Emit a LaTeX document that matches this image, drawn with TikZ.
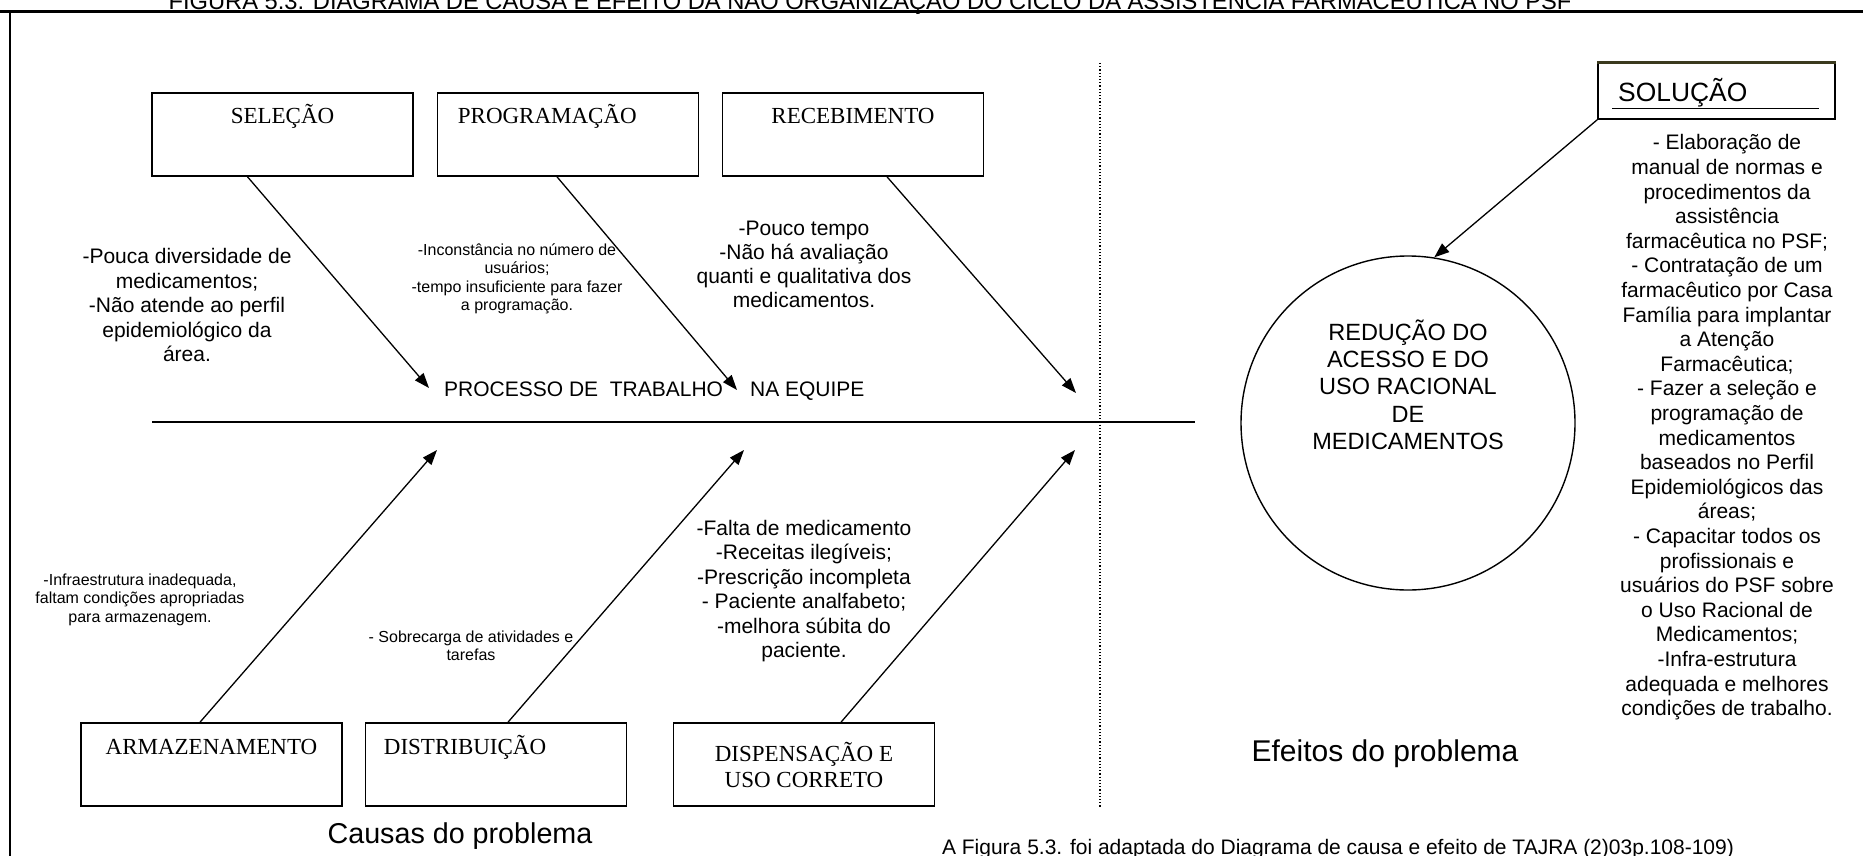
\documentclass[tikz,border=0pt]{standalone}
\usepackage{fontspec}
\setmainfont{Liberation Sans}
\newfontfamily\boxfont{Liberation Serif}
\usepackage{tikz}
\usetikzlibrary{calc, arrows.meta}
\definecolor{solbar}{HTML}{3B3A1E}

\begin{document}
\begin{tikzpicture}[x=1pt, y=-1pt, >={Triangle[length=15pt,width=11pt]},
    causebox/.style={draw, line width=1.6pt, minimum width=261pt, minimum height=83pt, inner sep=0pt},
    boxtext/.style={font=\boxfont\fontsize{23}{26}\selectfont, align=center, inner sep=0pt},
    causenote/.style={font=\fontsize{21}{24.5}\selectfont, align=center, inner sep=0pt},
    tinynote/.style={font=\fontsize{16}{18.4}\selectfont, align=center, inner sep=0pt},
    bone/.style={->, line width=1.3pt}]
    \useasboundingbox (0,0) rectangle (1863,856);
    \draw[line width=2.5pt] (0,11.5) -- (1863,11.5);
    \draw[line width=1.5pt] (10,11.5) -- (10,856);
    \node[anchor=base, inner sep=0pt, font=\fontsize{23.7}{28}\selectfont] (title) at (870,9.5) {FIGURA 5.3. DIAGRAMA DE CAUSA E EFEITO DA NÃO ORGANIZAÇÃO DO CICLO DA ASSISTÊNCIA FARMACÊUTICA NO PSF};

    \node[causebox] (sel) at (282.5,134.5) {};
    \node[causebox] (prog) at (568,134.5) {};
    \node[causebox] (rec) at (853,134.5) {};
    \node[causebox] (arm) at (211.5,764.5) {};
    \node[causebox] (dist) at (496,764.5) {};
    \node[causebox] (disp) at (804,764.5) {};
    \node[boxtext, anchor=base] (seltext) at ($(sel.north)+(0,31.6)$) {SELEÇÃO};
    \node[boxtext, anchor=base west] (progtext) at ($(prog.north west)+(21,31.6)$) {PROGRAMAÇÃO};
    \node[boxtext, anchor=base] (rectext) at ($(rec.north)+(0,31.6)$) {RECEBIMENTO};
    \node[boxtext, anchor=base] (armtext) at ($(arm.north)+(0,32.6)$) {ARMAZENAMENTO};
    \node[boxtext, anchor=base west] (disttext) at ($(dist.north west)+(19,32.6)$) {DISTRIBUIÇÃO};
    \node[boxtext] (disptext) at ($(disp.north)+(0,43)$) {DISPENSAÇÃO E\\USO CORRETO};

    \coordinate (spineL) at (152,422);
    \coordinate (spineR) at (1195,422);
    \draw[line width=2.2pt] (spineL) -- (spineR);
    \coordinate (dotTop) at (1100,63);
    \coordinate (dotBot) at (1100,807);
    \draw[dotted, line width=1.2pt] (dotTop) -- (dotBot);

    \coordinate (tipsel) at (429,388);
    \coordinate (tipprog) at (737,390);
    \coordinate (tiprec) at (1076,393);
    \coordinate (tiparm) at (437,450);
    \coordinate (tipdist) at (744,450);
    \coordinate (tipdisp) at (1075,450);
    \draw[bone] ($(sel.south)+(-35,0)$) -- (tipsel);
    \draw[bone] ($(prog.south)+(-11,0)$) -- (tipprog);
    \draw[bone] ($(rec.south)+(34,0)$) -- (tiprec);
    \draw[bone] ($(arm.north)+(-11.5,0)$) -- (tiparm);
    \draw[bone] ($(dist.north)+(12,0)$) -- (tipdist);
    \draw[bone] ($(disp.north)+(37,0)$) -- (tipdisp);

    \node[anchor=base west, inner sep=0pt, font=\fontsize{21}{24}\selectfont] (proc) at (444,396.5) {PROCESSO DE\ \ TRABALHO\hspace{27pt}NA EQUIPE};
    \node[causenote] (selnote) at (187,305) {-Pouca diversidade de\\medicamentos;\\-Não atende ao perfil\\epidemiológico da\\área.};
    \node[tinynote] (prognote) at (517,279) {-Inconstância no número de\\usuários;\\-tempo insuficiente para fazer\\a programação.};
    \node[causenote, font=\fontsize{21}{24}\selectfont] (recnote) at (804,264.5) {-Pouco tempo\\-Não há avaliação\\quanti e qualitativa dos\\medicamentos.};
    \node[tinynote] (armnote) at (140,599.5) {-Infraestrutura inadequada,\\faltam condições apropriadas\\para armazenagem.};
    \node[tinynote] (distnote) at (471,645.5) {- Sobrecarga de atividades e\\tarefas};
    \node[causenote] (dispnote) at (804,591) {-Falta de medicamento\\-Receitas ilegíveis;\\-Prescrição incompleta\\- Paciente analfabeto;\\-melhora súbita do\\paciente.};

    \node[draw, circle, line width=1.4pt, minimum size=334pt, inner sep=0pt] (eff) at (1408,423) {};
    \node[causenote, font=\fontsize{23.5}{27.3}\selectfont] (efftext) at (1408,384.5) {REDUÇÃO DO\\ACESSO E DO\\USO RACIONAL\\DE\\MEDICAMENTOS};

    \node[draw, line width=1.4pt, minimum width=237pt, minimum height=56pt, inner sep=0pt] (sol) at (1716.5,91) {};
    \draw[solbar, line width=3pt] (sol.north west) -- (sol.north east);
    \node[anchor=base west, inner sep=0pt, font=\fontsize{26.4}{30}\selectfont] (soltitle) at (1618,101.5) {SOLUÇÃO};
    \draw[line width=1pt] ($(sol.south west)+(15,-11)$) -- ($(sol.south east)+(-17,-11)$);
    \draw[bone] (sol.south west) -- (eff.81);
    \node[causenote, font=\fontsize{21}{24.6}\selectfont] (soltext) at (1727,427.5) {- Elaboração de\\manual de normas e\\procedimentos da\\assistência\\farmacêutica no PSF;\\- Contratação de um\\farmacêutico por Casa\\Família para implantar\\a Atenção\\Farmacêutica;\\- Fazer a seleção e\\programação de\\medicamentos\\baseados no Perfil\\Epidemiológicos das\\áreas;\\- Capacitar todos os\\profissionais e\\usuários do PSF sobre\\o Uso Racional de\\Medicamentos;\\-Infra-estrutura\\adequada e melhores\\condições de trabalho.};

    \node[font=\fontsize{28.7}{32}\selectfont] (causas) at (460,836) {Causas do problema};
    \node[font=\fontsize{30}{34}\selectfont] (efeitos) at (1385,754) {Efeitos do problema};
    \node[font=\fontsize{21}{24}\selectfont] (fonte) at (1338,849) {A Figura 5.3. foi adaptada do Diagrama de causa e efeito de TAJRA (2)03p.108-109)};
\end{tikzpicture}
\end{document}
